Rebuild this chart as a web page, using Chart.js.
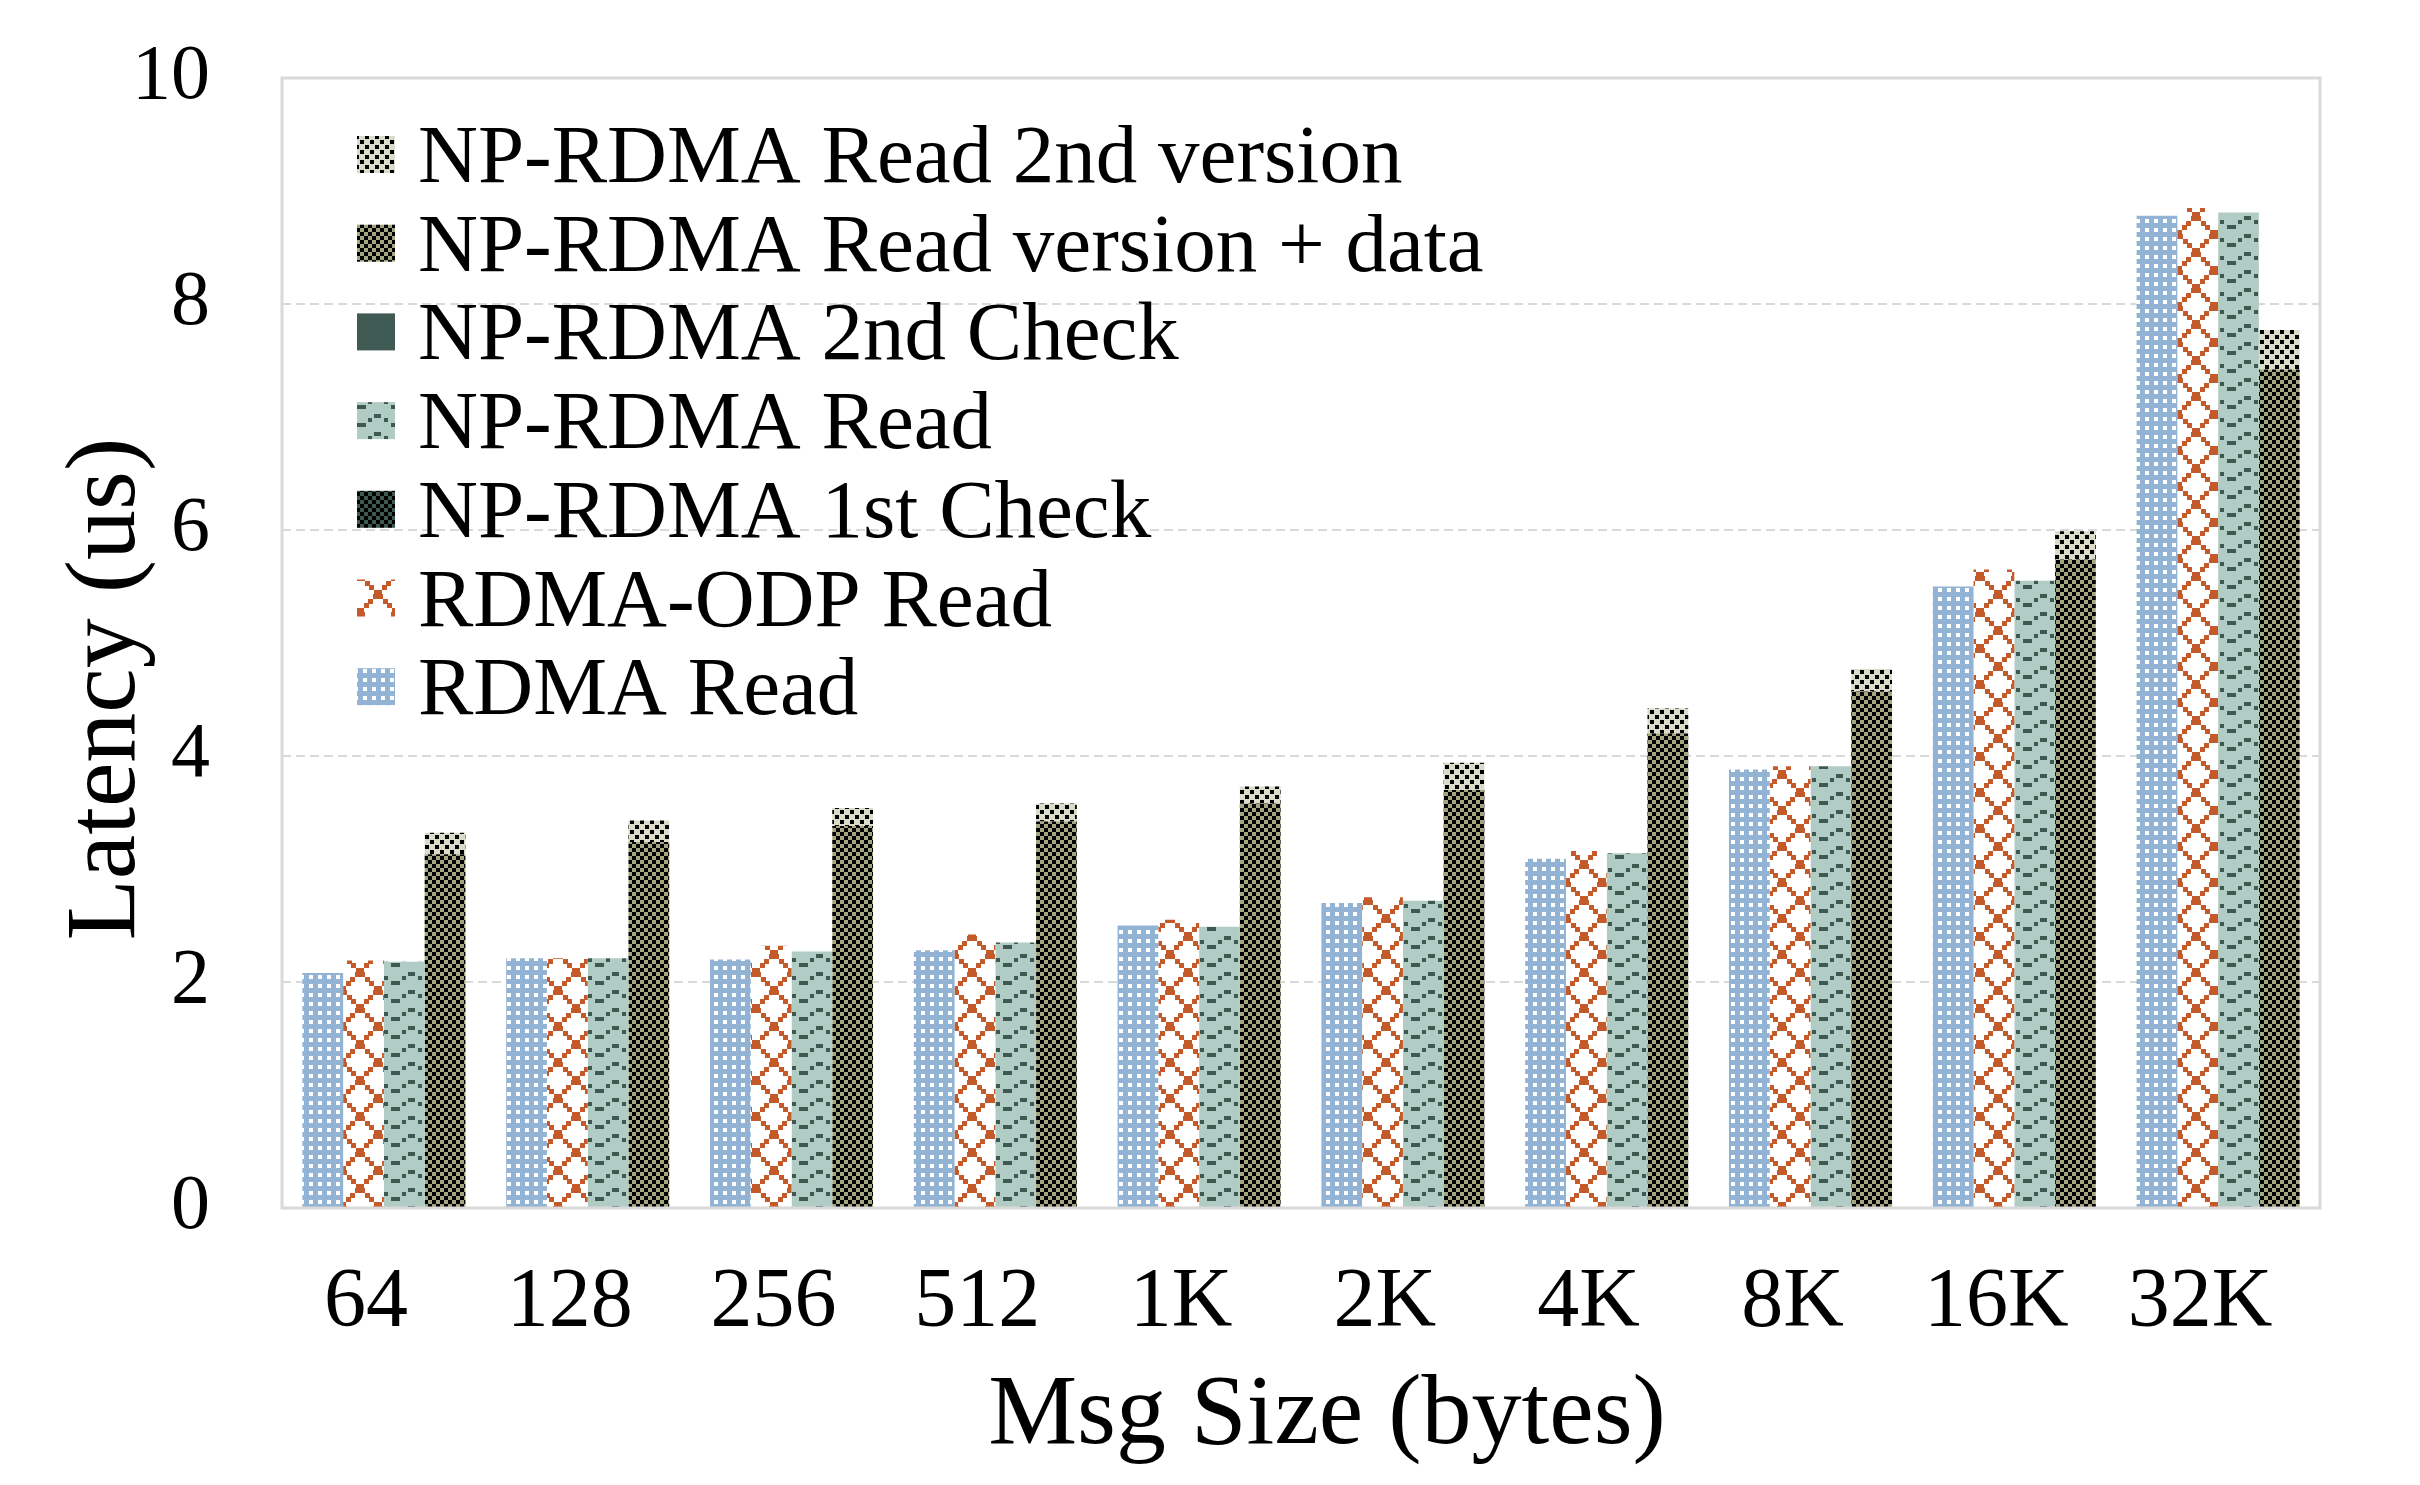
<!DOCTYPE html>
<html>
<head>
<meta charset="utf-8">
<script src="https://cdn.jsdelivr.net/npm/chart.js@4.4.1/dist/chart.umd.min.js"></script>
<style>
  html, body { margin: 0; padding: 0; background: #ffffff; }
  #wrap { width: 2420px; height: 1485px; position: relative; }
</style>
</head>
<body>
<div id="wrap"><canvas id="c"></canvas></div>
<script>
// ---------------- data ----------------
const categories = ['64', '128', '256', '512', '1K', '2K', '4K', '8K', '16K', '32K'];
const rdmaRead      = [2.08, 2.21, 2.20, 2.28, 2.50, 2.70, 3.09, 3.88, 5.50, 8.78];
const odpRead       = [2.19, 2.21, 2.32, 2.42, 2.55, 2.75, 3.16, 3.91, 5.65, 8.85];
const npRead        = [2.18, 2.21, 2.27, 2.35, 2.49, 2.72, 3.14, 3.91, 5.55, 8.81];
const npFirstCheck  = [0, 0, 0, 0, 0, 0, 0, 0, 0, 0];
const npSecondCheck = [0, 0, 0, 0, 0, 0, 0, 0, 0, 0];
const npVersionData = [3.13, 3.24, 3.38, 3.42, 3.58, 3.70, 4.20, 4.57, 5.74, 7.42];
const npSecondVer   = [0.19, 0.19, 0.16, 0.16, 0.15, 0.24, 0.22, 0.20, 0.25, 0.35];
const yTicks = [0, 2, 4, 6, 8, 10];
const seriesLabels = [
  'RDMA Read', 'RDMA-ODP Read', 'NP-RDMA Read', 'NP-RDMA 1st Check',
  'NP-RDMA 2nd Check', 'NP-RDMA Read version + data', 'NP-RDMA Read 2nd version'
];
const legendOrder = [6, 5, 4, 2, 3, 1, 0];
const xTitle = 'Msg Size (bytes)';
const yTitle = 'Latency (us)';

// ---------------- patterns ----------------
function makePattern(w, h, bg, draw) {
  const c = document.createElement('canvas');
  c.width = w; c.height = h;
  const x = c.getContext('2d');
  if (bg) { x.fillStyle = bg; x.fillRect(0, 0, w, h); }
  draw(x);
  return x.createPattern(c, 'repeat');
}
const patBlue = makePattern(9, 9, '#93b3d4', x => {
  x.fillStyle = '#ffffff'; x.fillRect(3, 3, 4, 4);
});
const patOrange = makePattern(36, 36, '#ffffff', x => {
  x.fillStyle = '#c45a29';
  for (let k = 0; k < 8; k++) {
    const s = Math.round(k * 4.5);
    x.fillRect(s, s, 5, 5);
    x.fillRect(31 - s, s, 5, 5);
  }
});
const patGreen = makePattern(34, 18, '#b1ccc4', x => {
  x.fillStyle = '#3e5a50';
  x.fillRect(0, 0, 7, 4);
  x.fillRect(10, 4, 4, 4);
  x.fillRect(17, 9, 9, 4);
  x.fillRect(28, 4, 4, 4);
});
const patFirst = makePattern(8, 8, '#3e5a50', x => {
  x.fillStyle = '#000000'; x.fillRect(0, 0, 4, 4); x.fillRect(4, 4, 4, 4);
});
const solidSecond = '#3e5a52';
const patOlive = makePattern(8, 8, '#a3a67e', x => {
  x.fillStyle = '#000000'; x.fillRect(0, 0, 4, 4); x.fillRect(4, 4, 4, 4);
});
const patBeige = makePattern(10, 10, '#dadcc9', x => {
  x.fillStyle = '#000000'; x.fillRect(0, 0, 4, 4); x.fillRect(5, 5, 4, 4);
});

const FONT = '"Liberation Serif", "Times New Roman", serif';

// ---------------- plugins ----------------
const framePlugin = {
  id: 'frame',
  afterDatasetsDraw(chart) {
    const a = chart.chartArea, ctx = chart.ctx;
    ctx.save();
    ctx.strokeStyle = '#d9d9d9';
    ctx.lineWidth = 3;
    ctx.setLineDash([]);
    ctx.strokeRect(a.left, a.top, a.right - a.left, a.bottom - a.top);
    ctx.restore();
  }
};
const legendPlugin = {
  id: 'insideLegend',
  afterDraw(chart) {
    const a = chart.chartArea, ctx = chart.ctx;
    ctx.save();
    ctx.font = '83px ' + FONT;
    ctx.textBaseline = 'alphabetic';
    ctx.textAlign = 'left';
    legendOrder.forEach((di, row) => {
      const ds = chart.data.datasets[di];
      const cy = a.top + 76 + row * 88.7;
      ctx.fillStyle = ds.backgroundColor;
      ctx.fillRect(a.left + 75, cy - 18, 38, 37);
      ctx.fillStyle = '#000000';
      ctx.fillText(ds.label, a.left + 136, cy + 28);
    });
    ctx.restore();
  }
};
const titlePlugin = {
  id: 'axisTitles',
  afterDraw(chart) {
    const a = chart.chartArea, ctx = chart.ctx;
    ctx.save();
    ctx.fillStyle = '#000000';
    ctx.font = '100px ' + FONT;
    ctx.textAlign = 'center';
    ctx.textBaseline = 'alphabetic';
    ctx.fillText(xTitle, (a.left + a.right) / 2 + 26, 1443);
    ctx.translate(134, (a.top + a.bottom) / 2 + 46);
    ctx.rotate(-Math.PI / 2);
    ctx.fillText(yTitle, 0, 0);
    ctx.restore();
  }
};

// ---------------- chart ----------------
const datasets = [
  { label: seriesLabels[0], data: rdmaRead,      stack: 'a', backgroundColor: patBlue },
  { label: seriesLabels[1], data: odpRead,       stack: 'b', backgroundColor: patOrange },
  { label: seriesLabels[2], data: npRead,        stack: 'c', backgroundColor: patGreen },
  { label: seriesLabels[3], data: npFirstCheck,  stack: 'd', backgroundColor: patFirst },
  { label: seriesLabels[4], data: npSecondCheck, stack: 'd', backgroundColor: solidSecond },
  { label: seriesLabels[5], data: npVersionData, stack: 'd', backgroundColor: patOlive },
  { label: seriesLabels[6], data: npSecondVer,   stack: 'd', backgroundColor: patBeige }
].map(d => Object.assign(d, { borderWidth: 0, categoryPercentage: 0.8, barPercentage: 1.0 }));

function noPad(s) { s.paddingTop = 0; s.paddingBottom = 0; s.paddingLeft = 0; s.paddingRight = 0; }

new Chart(document.getElementById('c'), {
  type: 'bar',
  data: { labels: categories, datasets },
  options: {
    responsive: true,
    maintainAspectRatio: false,
    devicePixelRatio: 1,
    animation: false,
    layout: { padding: { top: 78, right: 100, left: 0, bottom: 0 } },
    plugins: { legend: { display: false }, tooltip: { enabled: false } },
    scales: {
      x: {
        stacked: true,
        grid: { display: false, drawTicks: false },
        border: { display: false },
        ticks: { color: '#000000', font: { family: FONT, size: 84 }, padding: 46, maxRotation: 0, labelOffset: -18 },
        afterFit(s) { s.height = 277; noPad(s); }
      },
      y: {
        stacked: true,
        min: 0, max: 10,
        afterBuildTicks(s) { s.ticks = yTicks.map(v => ({ value: v })); },
        grid: {
          drawTicks: false,
          lineWidth: 2,
          color: ctx => (ctx.tick && (ctx.tick.value === 0 || ctx.tick.value === 10)) ? 'rgba(0,0,0,0)' : '#d9d9d9'
        },
        border: { display: false, dash: [9, 5] },
        ticks: { color: '#000000', font: { family: FONT, size: 78 }, padding: 72 },
        afterFit(s) { s.width = 282; noPad(s); }
      }
    }
  },
  plugins: [framePlugin, legendPlugin, titlePlugin]
});
</script>
</body>
</html>
